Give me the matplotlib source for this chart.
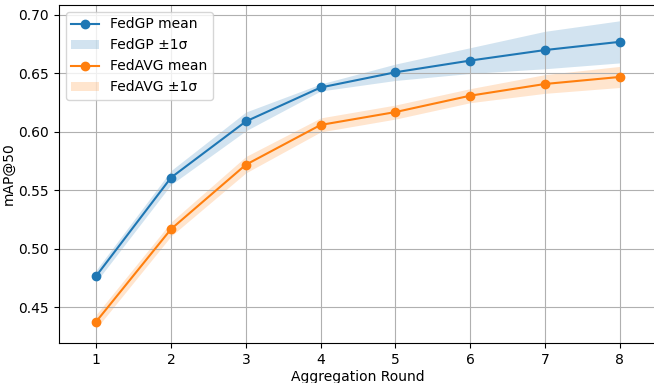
import matplotlib
matplotlib.use("Agg")
import matplotlib.pyplot as plt
import numpy as np

rounds = [1, 2, 3, 4, 5, 6, 7, 8]
fedgp_mean = [0.477, 0.561, 0.609, 0.638, 0.651, 0.661, 0.670, 0.677]
fedgp_std = [0.005, 0.006, 0.008, 0.003, 0.007, 0.011, 0.016, 0.018]
fedavg_mean = [0.438, 0.517, 0.572, 0.606, 0.617, 0.631, 0.641, 0.647]
fedavg_std = [0.006, 0.006, 0.007, 0.006, 0.006, 0.006, 0.008, 0.009]

fig = plt.figure(figsize=(6.54, 3.83), dpi=100)
ax = fig.add_axes([0.09, 0.104, 0.915, 0.883])

x = np.array(rounds)
m1, s1 = np.array(fedgp_mean), np.array(fedgp_std)
m2, s2 = np.array(fedavg_mean), np.array(fedavg_std)

ax.plot(x, m1, marker='o', color='C0', label='FedGP mean')
ax.fill_between(x, m1 - s1, m1 + s1, color='C0', alpha=0.2, linewidth=0, label='FedGP ±1σ')
ax.plot(x, m2, marker='o', color='C1', label='FedAVG mean')
ax.fill_between(x, m2 - s2, m2 + s2, color='C1', alpha=0.2, linewidth=0, label='FedAVG ±1σ')

ax.set_xlim(0.5, 8.5)
ax.set_ylim(0.4195, 0.7085)
ax.set_xticks(rounds)
ax.set_xlabel('Aggregation Round')
ax.set_ylabel('mAP@50')
# label positions
ax.xaxis.set_label_coords(0.5, -0.078)
ax.yaxis.set_label_coords(-0.072, 0.5)
ax.grid(True)
ax.legend(loc='upper left')

fig.savefig('out.png', dpi=100)
